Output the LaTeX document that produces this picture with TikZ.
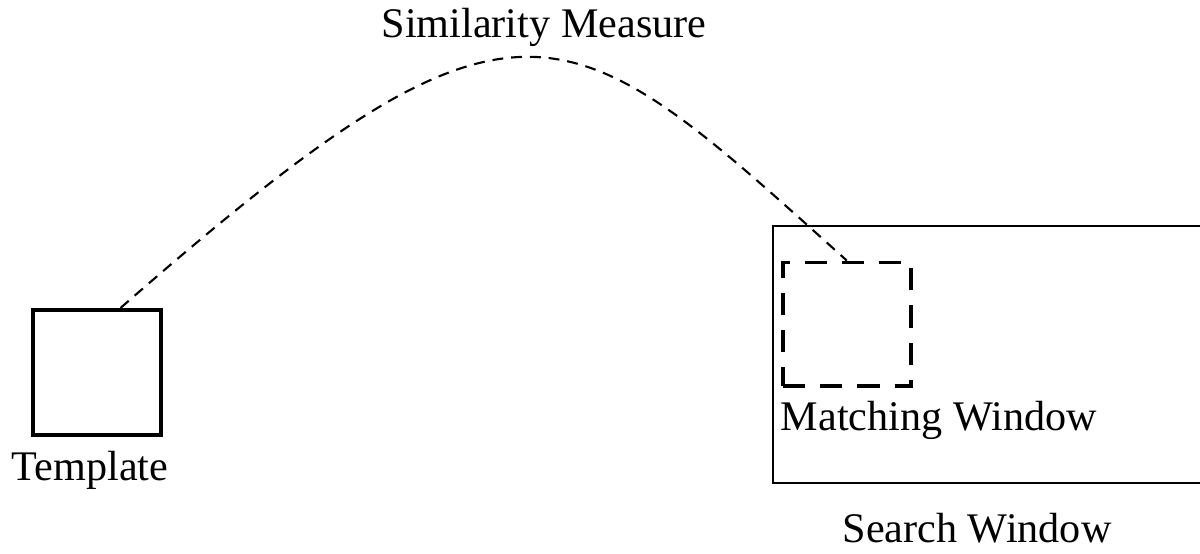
\documentclass[tikz,border=0pt]{standalone}
\usepackage{fontspec}
\setmainfont{Liberation Serif}
\usepackage{tikz}
\usetikzlibrary{positioning}

\begin{document}
\begin{tikzpicture}[
  lbl/.style={font=\fontsize{24}{28}\selectfont},
  framebox/.style={draw, line width=2.27pt, inner sep=0pt, minimum width=2.56cm, minimum height=2.5cm},
  matchbox/.style={draw, line width=2.27pt, dash pattern=on 12.7pt off 8.5pt, inner sep=0pt, minimum width=2.56cm, minimum height=2.47cm},
  searchbox/.style={draw, line width=1.13pt, inner sep=0pt, minimum width=8.63cm, minimum height=5.14cm},
  link/.style={line width=1.2pt, dash pattern=on 6.2pt off 4.5pt}
]
  \useasboundingbox (0,0) rectangle (24,-11.06);
  \node[framebox] (template) at (1.94,-7.45) {};
  \node[lbl, below=0.16cm of template, xshift=-0.14cm] (templatelbl) {Template};
  \node[searchbox] (search) at (19.77,-7.09) {};
  \node[lbl, below=0.47cm of search, xshift=-0.23cm] (searchlbl) {Search Window};
  \node[matchbox, below right=0.71cm and 0.18cm of search.north west] (match) {};
  \node[lbl, below right=0.15cm and -0.12cm of match.south west] (matchlbl) {Matching Window};
  \node[lbl, anchor=base] (measure) at (10.88,-0.746) {Similarity Measure};
  \draw[link] (template.70) .. controls +(8.05,7.04) and +(-5.67,5.09) .. (match.north);
\end{tikzpicture}
\end{document}
